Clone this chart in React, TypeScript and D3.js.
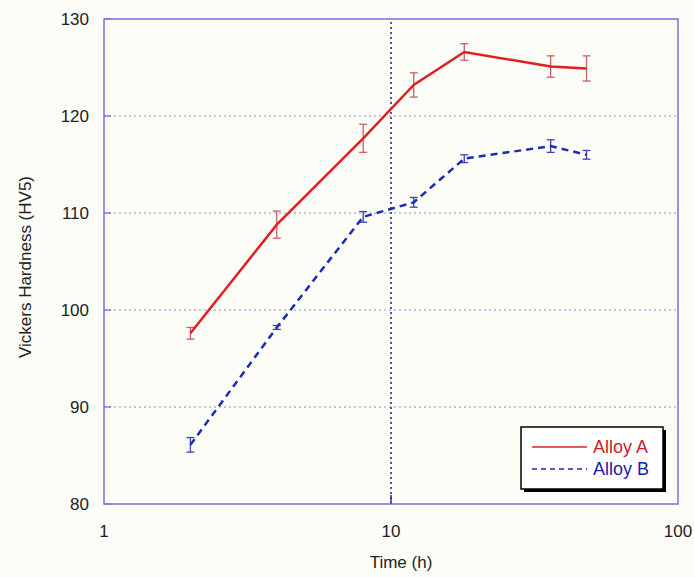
import React, { useEffect, useRef } from 'react';
import * as d3 from 'd3';

const hours = [2, 4, 8, 12, 18, 36, 48];
const alloyA = [97.6, 108.8, 117.7, 123.2, 126.6, 125.1, 124.9];
const alloyAErr = [0.6, 1.4, 1.45, 1.25, 0.85, 1.1, 1.3];
const alloyB = [86.1, 98.2, 109.6, 111.1, 115.6, 116.9, 116.0];
const alloyBErr = [0.75, 0.2, 0.55, 0.5, 0.4, 0.65, 0.45];
const yTicks = [80, 90, 100, 110, 120, 130];
const xTicks = [1, 10, 100];
const seriesNames = ['Alloy A', 'Alloy B'];

const App = () => {
  const svgRef = useRef(null);

  useEffect(() => {
    const svg = d3.select(svgRef.current);
    svg.selectAll('*').remove();

    const width = 694;
    const height = 577;
    const margin = { top: 19, right: 16, bottom: 73, left: 104 };
    const font = 'Liberation Sans, Arial, sans-serif';

    svg.attr('width', width).attr('height', height);
    svg.append('rect').attr('width', width).attr('height', height).attr('fill', '#fdfdf8');

    const x = d3.scaleLog().domain([1, 100]).range([margin.left, width - margin.right]);
    const y = d3.scaleLinear().domain([80, 130]).range([height - margin.bottom, margin.top]);

    // grid lines
    svg.append('g')
      .selectAll('line')
      .data(yTicks.slice(1, -1))
      .enter().append('line')
      .attr('x1', x(1)).attr('x2', x(100))
      .attr('y1', d => y(d)).attr('y2', d => y(d))
      .attr('stroke', '#8a8ae0')
      .attr('stroke-width', 1.2)
      .attr('stroke-dasharray', '2,3');

    svg.append('line')
      .attr('x1', x(10)).attr('x2', x(10))
      .attr('y1', y(80)).attr('y2', y(130))
      .attr('stroke', '#1c1c80')
      .attr('stroke-width', 1.5)
      .attr('stroke-dasharray', '2,3');

    // inward ticks
    svg.append('g').selectAll('line')
      .data(yTicks)
      .enter().append('line')
      .attr('x1', x(1)).attr('x2', x(1) + 7)
      .attr('y1', d => y(d)).attr('y2', d => y(d))
      .attr('stroke', '#6f6fdc').attr('stroke-width', 1.3);
    svg.append('line')
      .attr('x1', x(10)).attr('x2', x(10))
      .attr('y1', y(80)).attr('y2', y(80) - 9)
      .attr('stroke', '#2a2aa0').attr('stroke-width', 1.5);

    // frame
    svg.append('rect')
      .attr('x', x(1)).attr('y', y(130))
      .attr('width', x(100) - x(1)).attr('height', y(80) - y(130))
      .attr('fill', 'none')
      .attr('stroke', '#7373dd')
      .attr('stroke-width', 1.5);

    // tick labels
    svg.append('g').selectAll('text')
      .data(yTicks)
      .enter().append('text')
      .attr('x', x(1) - 15).attr('y', d => y(d) + 6)
      .attr('text-anchor', 'end')
      .attr('font-family', font).attr('font-size', 17)
      .attr('fill', '#222')
      .text(d => d);

    svg.append('g').selectAll('text')
      .data(xTicks)
      .enter().append('text')
      .attr('x', d => x(d)).attr('y', y(80) + 33)
      .attr('text-anchor', 'middle')
      .attr('font-family', font).attr('font-size', 17)
      .attr('fill', '#222')
      .text(d => d);

    // axis titles
    svg.append('text')
      .attr('x', 401).attr('y', height - 9)
      .attr('text-anchor', 'middle')
      .attr('font-family', font).attr('font-size', 17)
      .attr('fill', '#222')
      .text('Time (h)');

    svg.append('text')
      .attr('transform', `translate(31, 267) rotate(-90)`)
      .attr('text-anchor', 'middle')
      .attr('font-family', font).attr('font-size', 17)
      .attr('fill', '#222')
      .text('Vickers Hardness (HV5)');

    const line = d3.line()
      .x(d => x(d[0]))
      .y(d => y(d[1]));

    const series = [
      { vals: alloyA, err: alloyAErr, color: '#e02020', errColor: '#c66060', dash: null },
      { vals: alloyB, err: alloyBErr, color: '#1c2cb0', errColor: '#3444bb', dash: '7,5' },
    ];

    series.forEach(s => {
      const pts = hours.map((h, i) => [h, s.vals[i]]);

      // error bars
      const eb = svg.append('g').selectAll('g')
        .data(hours.map((h, i) => ({ h, v: s.vals[i], e: s.err[i] })))
        .enter().append('g');
      eb.append('line')
        .attr('x1', d => x(d.h)).attr('x2', d => x(d.h))
        .attr('y1', d => y(d.v - d.e)).attr('y2', d => y(d.v + d.e))
        .attr('stroke', s.errColor).attr('stroke-width', 1.3);
      [-1, 1].forEach(sign => {
        eb.append('line')
          .attr('x1', d => x(d.h) - 4).attr('x2', d => x(d.h) + 4)
          .attr('y1', d => y(d.v + sign * d.e)).attr('y2', d => y(d.v + sign * d.e))
          .attr('stroke', s.errColor).attr('stroke-width', 1.3);
      });

      svg.append('path')
        .datum(pts)
        .attr('d', line)
        .attr('fill', 'none')
        .attr('stroke', s.color)
        .attr('stroke-width', 2.5)
        .attr('stroke-dasharray', s.dash);
    });

    // legend
    const lg = svg.append('g').attr('transform', 'translate(521, 427)');
    lg.append('rect')
      .attr('x', 3).attr('y', 3).attr('width', 142).attr('height', 62)
      .attr('fill', '#000');
    lg.append('rect')
      .attr('width', 142).attr('height', 62)
      .attr('fill', '#fff').attr('stroke', '#000').attr('stroke-width', 1.5);

    seriesNames.forEach((name, i) => {
      const s = series[i];
      lg.append('line')
        .attr('x1', 11).attr('x2', 66)
        .attr('y1', 20 + i * 22).attr('y2', 20 + i * 22)
        .attr('stroke', s.color)
        .attr('stroke-width', 1.5)
        .attr('stroke-dasharray', s.dash ? '5,4' : null);
      lg.append('text')
        .attr('x', 72).attr('y', 26 + i * 22)
        .attr('font-family', font).attr('font-size', 18)
        .attr('fill', i === 0 ? '#c8202c' : '#2020a8')
        .text(name);
    });
  }, []);

  return <svg ref={svgRef} style={{ position: 'absolute', left: 0, top: 0 }}></svg>;
};

export default App;
